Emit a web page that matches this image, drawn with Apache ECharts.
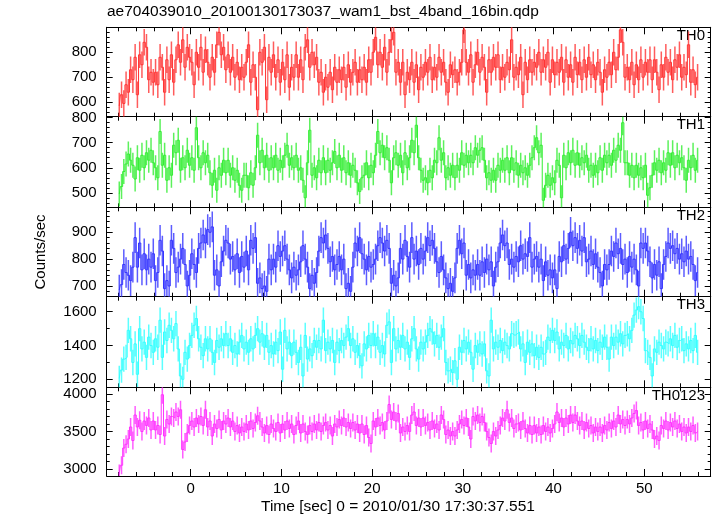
<!DOCTYPE html>
<html><head><meta charset="utf-8">
<script src="https://cdn.jsdelivr.net/npm/echarts@6/dist/echarts.min.js"></script>
<style>html,body{margin:0;padding:0;background:#fff}#c{width:717px;height:516px}</style>
</head><body><div id="c"></div>
<script>
// ---- data: 0.25 s bins starting at t = -8 s ----
const binStart = -8.0;
const binWidth = 0.25;

const th0 = [
585,630,595,670,640,730,690,780, 630,790,750,840,820,690,720,680, 720,670,780,740,640,770,690,790, 680,770,830,760,850,740,820,780,
760,670,800,740,820,720,810,760, 700,780,720,830,880,790,820,730, 790,720,780,700,760,690,740,700, 760,830,680,750,700,570,800,760,
820,610,780,720,790,700,770,680, 760,690,790,660,740,700,790,700, 770,690,820,850,740,800,750,780, 680,720,640,700,660,720,650,740,
680,730,690,740,660,750,680,720, 760,680,730,690,740,680,770,720, 800,860,750,800,740,820,720,800, 850,880,720,760,680,760,630,720,
690,760,680,750,650,740,700,760, 720,780,690,740,700,780,720,760, 680,640,750,710,730,680,720,760, 890,760,720,790,680,750,800,720,
780,740,640,770,720,780,740,790, 690,740,700,760,730,850,700,740, 710,780,630,760,690,770,720,760, 740,800,720,770,740,800,680,770,
710,760,720,780,680,770,700,750, 680,780,710,760,690,770,700,780, 710,750,690,760,720,640,730,700, 760,710,800,730,780,890,840,700,
740,690,760,670,750,690,770,700, 760,720,770,690,770,720,650,750, 700,780,720,760,690,770,740,790, 700,740,710,830,680,730,670,700
];
const th1 = [
495,525,585,615,655,630,610,555, 640,590,650,600,660,630,670,620, 600,560,745,610,650,550,600,570, 690,660,710,590,640,600,670,610,
640,590,760,640,600,660,620,650, 580,530,590,510,600,570,630,580, 630,570,600,550,590,530,510,570, 570,520,580,530,600,730,620,670,
600,650,590,640,600,650,590,630, 600,650,690,610,640,600,650,590, 600,550,480,620,750,570,600,560, 630,580,640,580,630,590,620,665,
600,650,590,640,580,620,570,610, 590,540,505,560,570,620,560,610, 580,650,745,660,690,640,680,630, 540,640,660,610,650,580,660,600,
640,710,660,770,640,590,550,560, 540,590,560,630,620,720,630,660, 560,600,570,610,560,610,590,660, 610,650,620,650,620,680,650,670,
680,630,560,580,550,590,550,610, 590,630,590,640,580,640,590,620, 570,610,580,600,570,610,640,680, 720,660,690,470,530,570,530,560,
540,630,610,480,650,600,660,620, 670,610,660,610,640,620,650,590, 610,570,610,580,640,590,650,620, 650,610,670,630,690,670,780,620,
620,570,610,560,610,570,600,560, 610,490,520,570,620,590,630,580, 620,590,660,610,660,600,650,620, 640,600,550,630,600,650,590,630
];
const th2 = [
685,705,780,750,740,720,770,880, 770,860,760,820,760,800,770,820, 720,750,870,830,690,720,700,870, 840,750,770,800,840,780,700,740,
820,780,750,840,860,890,860,910, 900,920,740,760,700,790,830,870, 860,800,810,760,820,750,810,770, 830,760,870,840,880,710,730,690,
700,680,800,760,800,770,850,810, 830,850,800,760,730,770,740,760, 790,850,800,770,690,740,710,750, 830,880,860,890,840,790,810,760,
780,810,760,800,690,710,680,770, 860,830,880,820,800,760,810,770, 780,800,850,880,860,830,870,840, 710,740,700,730,840,800,870,810,
770,880,800,830,780,840,800,830, 880,850,870,840,790,750,810,760, 730,690,710,680,730,840,870,820, 860,740,780,730,760,740,780,740,
790,750,800,760,790,700,770,790, 860,890,850,860,780,800,770,810, 790,850,800,820,810,880,770,800, 810,770,800,720,790,740,760,730,
760,690,810,790,850,800,840,900, 850,880,840,870,830,880,790,800, 830,780,820,770,750,700,780,760, 780,830,810,860,820,840,780,800,
750,810,770,800,760,700,860,840, 860,830,790,730,780,740,790,690, 780,810,860,840,850,820,840,800, 820,790,830,800,810,780,720,750
];
const th3 = [
1205,1255,1320,1330,1490,1440,1300,1410, 1230,1500,1380,1420,1330,1450,1400,1360, 1440,1390,1550,1330,1480,1430,1520,1490, 1440,1530,1380,1220,1200,1360,1320,1400,
1460,1520,1560,1440,1390,1340,1440,1380, 1440,1360,1300,1430,1390,1440,1400,1470, 1400,1440,1360,1400,1350,1420,1460,1380, 1420,1360,1440,1380,1460,1500,1420,1470,
1390,1460,1360,1400,1350,1420,1370,1480, 1260,1490,1380,1420,1340,1420,1360,1300, 1390,1220,1460,1320,1380,1340,1430,1390, 1430,1380,1550,1370,1420,1380,1430,1300,
1420,1370,1430,1400,1450,1500,1400,1440, 1360,1400,1340,1280,1410,1380,1460,1400, 1470,1400,1450,1360,1400,1350,1520,1540, 1300,1500,1380,1430,1390,1460,1380,1420,
1330,1440,1500,1380,1320,1420,1380,1420, 1460,1500,1480,1410,1460,1390,1450,1500, 1300,1250,1260,1240,1310,1200,1390,1360, 1430,1380,1420,1360,1260,1400,1360,1410,
1350,1410,1250,1220,1550,1380,1420,1390, 1430,1370,1420,1400,1380,1470,1460,1470, 1480,1380,1410,1300,1420,1360,1410,1340, 1390,1330,1390,1350,1360,1450,1430,1490,
1430,1480,1380,1420,1400,1460,1380,1430, 1410,1460,1440,1400,1460,1420,1390,1370, 1440,1380,1430,1370,1420,1390,1450,1390, 1320,1450,1400,1450,1420,1470,1410,1460,
1470,1440,1490,1580,1610,1630,1600,1560, 1370,1360,1330,1220,1380,1360,1420,1400, 1380,1420,1410,1440,1400,1460,1390,1430, 1440,1370,1410,1380,1430,1370,1460,1360
];
const th0123 = [
2940,3050,3280,3330,3400,3560,3380,3720, 3560,3650,3500,3640,3580,3680,3520,3640, 3520,3580,3460,3990,3440,3660,3600,3700, 3680,3760,3700,3790,3260,3360,3480,3580,
3640,3560,3680,3600,3700,3580,3790,3560, 3640,3440,3600,3540,3660,3520,3640,3600, 3680,3560,3640,3500,3580,3480,3560,3500, 3600,3520,3640,3540,3620,3710,3640,3560,
3480,3580,3460,3600,3540,3500,3620,3480, 3600,3520,3640,3540,3600,3460,3580,3640, 3480,3600,3500,3460,3580,3500,3600,3520, 3620,3500,3580,3620,3520,3580,3440,3600,
3560,3660,3580,3680,3560,3620,3540,3620, 3520,3600,3480,3600,3460,3580,3420,3340, 3640,3560,3680,3580,3620,3520,3640,3860, 3660,3760,3640,3740,3480,3560,3500,3580,
3500,3720,3760,3580,3680,3560,3680,3580, 3620,3520,3640,3540,3600,3520,3720,3660, 3460,3520,3440,3500,3440,3520,3600,3660, 3580,3680,3560,3400,3700,3640,3720,3620,
3700,3620,3500,3420,3340,3500,3440,3520, 3580,3680,3640,3790,3620,3680,3540,3600, 3620,3520,3640,3540,3480,3580,3460,3580, 3480,3560,3460,3580,3500,3560,3480,3540,
3600,3760,3620,3680,3560,3680,3600,3720, 3620,3720,3640,3580,3640,3520,3620,3540, 3580,3480,3560,3500,3560,3480,3580,3520, 3620,3540,3640,3560,3720,3600,3660,3580,
3660,3600,3680,3740,3780,3580,3620,3520, 3640,3540,3600,3520,3400,3440,3380,3580, 3540,3640,3520,3620,3560,3640,3540,3600, 3500,3560,3480,3560,3500,3580,3480,3500
];

// per-panel 1-sigma errors (counts/sec)
const errTH0 = 53, errTH1 = 50, errTH2 = 57, errTH3 = 75, errTH0123 = 119;

const bandNames = ['TH0', 'TH1', 'TH2', 'TH3', 'TH0123'];
const bandValues = [th0, th1, th2, th3, th0123];
const bandErrors = [errTH0, errTH1, errTH2, errTH3, errTH0123];

// tick labels
const xMajorTicks = [0, 10, 20, 30, 40, 50];
const xMinorTicks = [-8,-6,-4,-2,0,2,4,6,8,10,12,14,16,18,20,22,24,26,28,30,32,34,36,38,40,42,44,46,48,50,52,54,56];
const yMajorTicks = [[600,700,800],[500,600,700,800],[700,800,900],[1200,1400,1600],[3000,3500,4000]];
const yMinorStep = [20, 20, 20, 100, 100];

const titleText = 'ae704039010_20100130173037_wam1_bst_4band_16bin.qdp';
const xTitle = 'Time [sec] 0 = 2010/01/30 17:30:37.551';
const yTitle = 'Counts/sec';

// ---- layout / style ----
const yRanges = [[542, 900], [442, 804], [660, 993], [1153, 1689], [2907, 4089]];
const colors = ['#ff3333', '#33ee33', '#3333ff', '#33ffff', '#ff33ff'];
const gridTops = [27.3, 116.7, 207.3, 296.7, 387.3];
const gridHeights = [89.4, 90.6, 89.4, 90.6, 88.7];
const X_MIN = -9.26, X_MAX = 57.32;
const FONT = '"Liberation Sans", Arial, Helvetica, sans-serif';
const plain = v => String(v);

function minorList(r, step) {
  const out = [];
  for (let v = Math.ceil(r[0] / step) * step; v <= r[1]; v += step) out.push(v);
  return out;
}

const grid = [], xAxis = [], yAxis = [], series = [];
const hiddenLine = { show: false, onZero: false };
const shownLine = { show: true, onZero: false, lineStyle: { color: '#000', width: 1 } };
for (let i = 0; i < 5; i++) {
  grid.push({ left: 106.7, right: 6.3, top: gridTops[i], height: gridHeights[i] });
  const baseX = { type: 'value', gridIndex: i, min: X_MIN, max: X_MAX, splitLine: { show: false } };
  const last = i === 4;
  xAxis.push(Object.assign({}, baseX, { position: 'bottom', axisLine: shownLine,
    axisTick: { show: true, inside: true, length: 4, customValues: xMinorTicks, lineStyle: { color: '#000' } },
    axisLabel: { show: last, customValues: xMajorTicks, formatter: plain, fontSize: 15, fontFamily: FONT, color: '#000', margin: 5 } }));
  xAxis.push(Object.assign({}, baseX, { position: 'bottom', axisLine: hiddenLine,
    axisTick: { show: true, inside: true, length: 7, customValues: xMajorTicks, lineStyle: { color: '#000' } },
    axisLabel: { show: false } }));
  xAxis.push(Object.assign({}, baseX, { position: 'top', axisLine: shownLine,
    axisTick: { show: true, inside: true, length: 4, customValues: xMinorTicks, lineStyle: { color: '#000' } },
    axisLabel: { show: false } }));
  xAxis.push(Object.assign({}, baseX, { position: 'top', axisLine: hiddenLine,
    axisTick: { show: true, inside: true, length: 7, customValues: xMajorTicks, lineStyle: { color: '#000' } },
    axisLabel: { show: false } }));

  const r = yRanges[i];
  const minors = minorList(r, yMinorStep[i]);
  const baseY = { type: 'value', gridIndex: i, min: r[0], max: r[1], splitLine: { show: false } };
  yAxis.push(Object.assign({}, baseY, { position: 'left', axisLine: shownLine,
    axisTick: { show: true, inside: true, length: 6, customValues: yMajorTicks[i], lineStyle: { color: '#000' } },
    axisLabel: { show: true, customValues: yMajorTicks[i], formatter: plain, fontSize: 15, fontFamily: FONT, color: '#000', margin: 10 } }));
  yAxis.push(Object.assign({}, baseY, { position: 'left', axisLine: hiddenLine,
    axisTick: { show: true, inside: true, length: 3, customValues: minors, lineStyle: { color: '#000' } },
    axisLabel: { show: false } }));
  yAxis.push(Object.assign({}, baseY, { position: 'right', axisLine: shownLine,
    axisTick: { show: true, inside: true, length: 6, customValues: yMajorTicks[i], lineStyle: { color: '#000' } },
    axisLabel: { show: false } }));
  yAxis.push(Object.assign({}, baseY, { position: 'right', axisLine: hiddenLine,
    axisTick: { show: true, inside: true, length: 3, customValues: minors, lineStyle: { color: '#000' } },
    axisLabel: { show: false } }));

  const vals = bandValues[i];
  const err = bandErrors[i];
  const pts = vals.map((v, k) => [binStart + (k + 0.5) * binWidth, v, err]);
  const col = colors[i];
  series.push({
    type: 'line', xAxisIndex: 4 * i, yAxisIndex: 4 * i, data: pts, step: 'middle',
    showSymbol: false, symbol: 'none', clip: true,
    lineStyle: { color: col, width: 1 }, itemStyle: { color: col }, silent: true
  });
  series.push({
    type: 'custom', xAxisIndex: 4 * i, yAxisIndex: 4 * i, data: pts, clip: true, silent: true,
    encode: { x: 0, y: 1 },
    renderItem: (params, api) => {
      const t = api.value(0), v = api.value(1), e = api.value(2);
      const p1 = api.coord([t, v - e]), p2 = api.coord([t, v + e]);
      return { type: 'line', shape: { x1: p1[0], y1: p1[1], x2: p2[0], y2: p2[1] },
        style: { stroke: col, lineWidth: 1.5, opacity: 0.8 } };
    }
  });
}

const graphic = [
  { type: 'text', left: 107, top: 4, style: { text: titleText, font: '15.5px ' + FONT, fill: '#000' } },
  { type: 'text', left: 261, top: 499, style: { text: xTitle, font: '15.5px ' + FONT, fill: '#000' } },
  { type: 'text', x: 41, y: 252, rotation: Math.PI / 2,
    style: { text: yTitle, font: '15px ' + FONT, fill: '#000', align: 'center', verticalAlign: 'middle' } }
];
for (let i = 0; i < 5; i++) {
  graphic.push({ type: 'text', x: 705, y: gridTops[i] + 1,
    style: { text: bandNames[i], font: '15px ' + FONT, fill: '#000', align: 'right', verticalAlign: 'top' } });
}

const chart = echarts.init(document.getElementById('c'), null, { renderer: 'canvas' });
chart.setOption({
  animation: false,
  backgroundColor: '#fff',
  grid, xAxis, yAxis, series, graphic
});
</script>
</body></html>
